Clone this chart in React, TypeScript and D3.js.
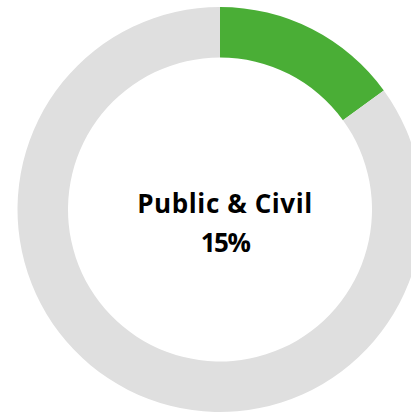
import React from "react";
import * as d3 from "d3";

const categories = ["Public & Civil", "Other"];
const values = [15, 85];
const colors = ["#4aae36", "#dfdfdf"];
const labelLines = ["Public & Civil", "15%"];

const W = 411;
const H = 414;

export default function App() {
  const cx = 220;
  const cy = 209.5;
  const outer = 202.5;
  const inner = 152;
  const pie = d3.pie<number>().sort(null).value((d) => d)(values);
  const arc = d3.arc<d3.PieArcDatum<number>>().innerRadius(inner).outerRadius(outer);
  return (
    <svg
      width={W}
      height={H}
      style={{ position: "absolute", left: 0, top: 0, display: "block" }}
    >
      <rect width={W} height={H} fill="#fff" />
      <g transform={`translate(${cx},${cy})`}>
        {pie.map((p, i) => (
          <path key={categories[i]} d={arc(p) || ""} fill={colors[i]} />
        ))}
      </g>
      <text
        x={225}
        y={213}
        textAnchor="middle"
        fontFamily="'Open Sans', Lato, sans-serif"
        fontWeight={700}
        fontSize={26}
        letterSpacing={0.6}
        fill="#000"
      >
        {labelLines[0]}
      </text>
      <text
        x={225}
        y={252}
        textAnchor="middle"
        fontFamily="'Open Sans', Lato, sans-serif"
        fontWeight={700}
        fontSize={26}
        letterSpacing={-1.5}
        fill="#000"
      >
        {labelLines[1]}
      </text>
    </svg>
  );
}
